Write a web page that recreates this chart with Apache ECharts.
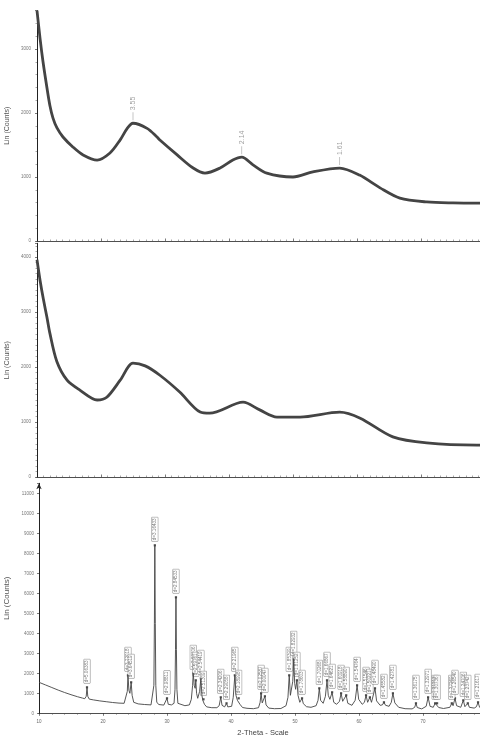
<!DOCTYPE html>
<html><head><meta charset="utf-8">
<script src="https://cdn.jsdelivr.net/npm/echarts@6/dist/echarts.min.js"></script>
<style>html,body{margin:0;padding:0;background:#fff}#c{width:480px;height:738px}</style>
</head><body><div id="c"></div>
<script>
// Panel 1 (top) amorphous pattern
const p1X = [10,10.47,10.94,11.56,12.03,12.5,13.1,14.06,15.6,17.2,19.4,21.4,23.0,24.1,25.0,27.2,28.75,29.2,31.9,34.4,36.25,38.6,40.6,42.0,43.75,45.9,50.0,53.1,57.3,60.4,63.6,66.7,70.9,75.0,80];
const p1Y = [3600,3170,2800,2390,2110,1920,1770,1625,1470,1345,1265,1375,1580,1760,1840,1760,1625,1578,1345,1140,1060,1140,1265,1310,1190,1060,1000,1080,1140,1030,830,670,610,595,590];
const p1PeakX = [25.0, 42.0, 57.3];
const p1PeakY = [1840, 1310, 1140];
const p1PeakText = ['3.55', '2.14', '1.61'];

// Panel 2 (middle)
const p2X = [10,10.5,11.0,11.56,12.0,13.1,14.7,16.7,19.4,20.9,23.0,25.0,26.9,29.2,32.3,35.5,37.0,42.2,44.8,47.5,51.1,57.3,60.5,65.6,70.9,78.75,80];
const p2Y = [3950,3560,3230,2900,2620,2100,1760,1580,1400,1450,1760,2070,2020,1850,1545,1180,1160,1360,1220,1090,1090,1180,1070,730,620,580,580];

// Panel 3 (bottom) crystalline pattern
const p3X = [10,11,12,13,14,15,16,16.8,17.15,17.38,17.5,17.62,17.85,18.5,19.5,20.5,21.5,22.5,23.3,23.6,23.8,23.9,24.05,24.2,24.4,24.55,24.8,25.5,26.5,27.5,27.8,27.95,28.03,28.1,28.17,28.25,28.4,28.7,29.5,29.8,30.0,30.2,30.7,31.1,31.25,31.33,31.4,31.47,31.55,31.7,32.0,32.8,33.5,33.8,34.0,34.1,34.25,34.4,34.5,34.62,34.8,35.1,35.3,35.45,35.6,35.7,35.85,36.2,37.0,37.8,38.15,38.4,38.6,39.0,39.3,39.5,40.1,40.35,40.6,40.78,41.0,41.2,41.4,41.8,42.5,43.5,44.3,44.55,44.7,44.88,45.1,45.3,45.48,45.9,46.8,47.8,48.6,48.9,49.1,49.28,49.45,49.65,49.8,49.95,50.1,50.3,50.47,50.75,51.1,51.3,51.8,52.5,53.3,53.6,53.8,54.0,54.4,54.75,55.0,55.2,55.45,55.8,56.05,56.5,56.95,57.2,57.45,57.7,58.0,58.25,58.9,59.4,59.7,59.95,60.5,60.85,61.1,61.35,61.5,61.7,61.95,62.2,62.5,62.75,63.3,63.65,63.9,64.15,64.7,65.05,65.3,65.6,66.2,67.2,68.3,68.7,68.9,69.1,69.8,70.5,70.8,71.1,71.6,71.9,72.05,72.2,72.45,73.2,74.2,74.5,74.7,75.0,75.25,75.9,76.3,76.55,76.8,77.0,77.25,78.0,78.35,78.6,78.85,79.5,80];
const p3Y = [1550,1420,1290,1160,1040,930,830,760,730,850,1300,850,710,670,620,580,540,510,500,600,1100,1900,1150,1000,1550,900,550,470,440,420,520,1400,4500,8400,4500,1400,560,440,410,450,750,450,420,500,1200,3200,5800,3200,1200,500,400,380,420,700,1400,2000,1400,1250,1650,1000,750,1100,1750,900,650,700,450,320,280,280,380,800,400,320,500,320,350,800,1900,900,650,750,450,290,250,230,280,550,1000,520,500,850,420,260,230,240,380,800,1900,900,900,1600,2700,1500,1200,1650,900,550,750,480,330,300,380,650,1250,650,500,850,1650,900,700,1050,550,450,600,1000,600,600,900,500,400,650,1400,700,450,550,900,550,600,800,550,600,1250,620,400,420,550,400,350,550,1000,520,300,230,220,300,500,290,220,350,800,350,300,500,420,500,290,240,300,500,380,750,380,300,650,330,320,500,300,260,330,550,300,260,260];
const p3PeakX = [17.5,23.9,24.4,28.1,30.0,31.4,34.1,34.5,35.3,35.7,38.4,39.3,40.6,41.2,44.7,45.3,49.1,49.8,50.3,51.1,53.8,55.0,55.8,57.2,58.0,59.7,61.1,61.7,62.5,63.9,65.3,68.9,70.8,71.9,72.2,74.5,75.0,76.3,77.0,78.6];
const p3PeakY = [1300,1900,1550,8400,750,5800,2000,1650,1750,700,800,500,1900,750,1000,850,1900,2700,1650,750,1250,1650,1050,1000,900,1400,900,800,1250,550,1000,500,800,500,500,500,750,650,500,550];
const p3PeakText = ['d=5.06383','d=3.72018','d=3.64519','d=3.16433','d=2.98811','d=2.84533','d=2.62706','d=2.59761','d=2.54419','d=2.51309','d=2.34206','d=2.29058','d=2.21965','d=2.18998','d=2.02587','d=2.00047','d=1.85399','d=1.82932','d=1.81252','d=1.78603','d=1.70268','d=1.66867','d=1.64621','d=1.60918','d=1.58890','d=1.54764','d=1.51546','d=1.50221','d=1.48490','d=1.45582','d=1.42781','d=1.36175','d=1.32971','d=1.31213','d=1.30736','d=1.27269','d=1.26540','d=1.24706','d=1.23742','d=1.21617'];

const yTickLabels1 = ['0','1000','2000','3000'];
const yTickLabels2 = ['0','1000','2000','3000','4000'];
const yTickLabels3 = ['0','1000','2000','3000','4000','5000','6000','7000','8000','9000','10000','11000'];
const xTickLabels = ['10','20','30','40','50','60','70'];

const zip = (a, b) => a.map((v, i) => [v, b[i]]);
const FONT = 'Liberation Sans, Arial, sans-serif';
const axisCol = '#222';

function yAxis(gi, max, labels, minorSplit, margin) {
  return {
    gridIndex: gi, type: 'value', min: 0, max: max, interval: 1000,
    name: 'Lin (Counts)', nameLocation: 'middle', nameGap: gi === 2 ? 19 : 18, nameRotate: 90,
    nameTextStyle: {fontFamily: FONT, fontSize: gi === 2 ? 8 : 7, color: '#555'},
    axisLine: {show: true, lineStyle: {color: axisCol, width: 1}, symbol: gi === 2 ? ['none','arrow'] : 'none', symbolSize: [4, 6]},
    axisTick: {show: true, length: 2, lineStyle: {color: axisCol, width: 0.6}},
    minorTick: {show: minorSplit > 0, splitNumber: minorSplit || 5, length: 1.5, lineStyle: {color: '#555', width: 0.5}},
    axisLabel: {fontFamily: FONT, fontSize: 4.5, color: '#777', margin: margin,
      formatter: v => labels.indexOf(String(v)) >= 0 ? String(v) : ''},
    splitLine: {show: false}
  };
}
function xAxis(gi, showLabels) {
  return {
    gridIndex: gi, type: 'value', min: 10, max: 80, interval: 10,
    axisLine: {show: true, onZero: false, lineStyle: {color: axisCol, width: 0.8}},
    axisTick: {show: true, inside: !showLabels, length: 2.5, lineStyle: {color: axisCol, width: 0.6}},
    minorTick: {show: true, splitNumber: showLabels ? 5 : 10, length: 1.5, lineStyle: {color: '#555', width: 0.5}},
    axisLabel: {show: showLabels, fontFamily: FONT, fontSize: 4.5, color: '#666', margin: 6,
      formatter: v => xTickLabels.indexOf(String(v)) >= 0 ? String(v) : ''},
    splitLine: {show: false},
    name: showLabels ? '2-Theta - Scale' : '', nameLocation: 'middle', nameGap: 16,
    nameTextStyle: {fontFamily: FONT, fontSize: 7.5, color: '#444'}
  };
}

const chart = echarts.init(document.getElementById('c'), null, {renderer: 'canvas'});
chart.setOption({
  backgroundColor: '#fff',
  animation: false,
  grid: [
    {left: 37, top: 10.6, width: 448, height: 230.4, containLabel: false, outerBoundsMode: 'none'},
    {left: 37, top: 243.25, width: 448, height: 233.75, containLabel: false, outerBoundsMode: 'none'},
    {left: 39, top: 483.3, width: 448, height: 230, containLabel: false, outerBoundsMode: 'none'}
  ],
  xAxis: [xAxis(0, false), xAxis(1, false), xAxis(2, true)],
  yAxis: [
    yAxis(0, 3600, yTickLabels1, 5, 6),
    yAxis(1, 4250, yTickLabels2, 10, 6),
    yAxis(2, 11500, yTickLabels3, 0, 5)
  ],
  series: [
    {type: 'line', xAxisIndex: 0, yAxisIndex: 0, data: zip(p1X, p1Y), smooth: 0.3, showSymbol: false,
      lineStyle: {color: '#444', width: 2.8}},
    {type: 'scatter', xAxisIndex: 0, yAxisIndex: 0, data: zip(p1PeakX, p1PeakY), symbol: 'rect', symbolSize: [0.6, 8], symbolOffset: [0, -7],
      itemStyle: {color: '#888'},
      label: {show: true, position: 'top', distance: 2, rotate: 90, align: 'left', verticalAlign: 'middle',
        fontFamily: FONT, fontSize: 7, color: '#888', formatter: p => p1PeakText[p.dataIndex]}},
    {type: 'line', xAxisIndex: 1, yAxisIndex: 1, data: zip(p2X, p2Y), smooth: 0.3, showSymbol: false,
      lineStyle: {color: '#444', width: 2.8}},
    {type: 'line', xAxisIndex: 2, yAxisIndex: 2, data: zip(p3X, p3Y), smooth: false, showSymbol: false,
      lineStyle: {color: '#444', width: 0.9}},
    {type: 'scatter', xAxisIndex: 2, yAxisIndex: 2, data: zip(p3PeakX, p3PeakY), symbol: 'rect', symbolSize: 2.2,
      itemStyle: {color: '#222'},
      label: {show: true, position: 'top', distance: 3, rotate: 90, align: 'left', verticalAlign: 'middle',
        fontFamily: FONT, fontSize: 4.6, color: '#555', borderColor: '#777', borderWidth: 0.5, padding: [1, 1, 0, 1],
        backgroundColor: '#fff', formatter: p => p3PeakText[p.dataIndex]}}
  ]
});
</script></body></html>
